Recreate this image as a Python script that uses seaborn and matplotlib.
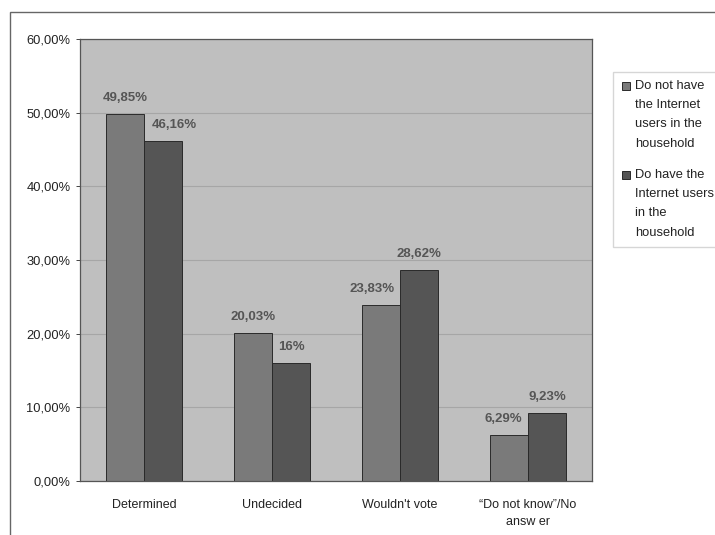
import matplotlib
matplotlib.use("Agg")
import matplotlib.pyplot as plt
import seaborn as sns
import pandas as pd
from matplotlib.patches import Rectangle

categories = ["Determined", "Undecided", "Wouldn't vote", "\u201cDo not know\u201d/No\nansw er"]
series_names = ["Do not have\nthe Internet\nusers in the\nhousehold",
                "Do have the\nInternet users\nin the\nhousehold"]
no_internet = [49.85, 20.03, 23.83, 6.29]
with_internet = [46.16, 16.00, 28.62, 9.23]
value_labels_no = ["49,85%", "20,03%", "23,83%", "6,29%"]
value_labels_with = ["46,16%", "16%", "28,62%", "9,23%"]
y_ticks = [0, 10, 20, 30, 40, 50, 60]
y_tick_labels = ["0,00%", "10,00%", "20,00%", "30,00%", "40,00%", "50,00%", "60,00%"]

df = pd.DataFrame({
    "category": categories * 2,
    "group": [series_names[0]] * 4 + [series_names[1]] * 4,
    "value": no_internet + with_internet,
})

sns.set_theme(style="white")
plt.rcParams["font.family"] = ["Liberation Sans", "DejaVu Sans"]

fig = plt.figure(figsize=(7.15, 5.35), dpi=100)
ax = fig.add_axes([0.112, 0.101, 0.716, 0.826])

palette = ["#7a7a7a", "#555555"]
sns.barplot(data=df, x="category", y="value", hue="group", order=categories,
            hue_order=series_names, palette=palette, width=0.6, saturation=1,
            edgecolor="#2a2a2a", linewidth=0.7, ax=ax)

ax.set_facecolor("#bfbfbf")
ax.set_xlim(-0.5, 3.5)
ax.set_ylim(0, 60)
ax.set_yticks(y_ticks)
ax.set_yticklabels(y_tick_labels, fontsize=9.3, color="#222222")
ax.tick_params(axis="y", length=3, width=0.7, color="#444444", direction="out", left=True, pad=4)
ax.tick_params(axis="x", length=0, labelsize=9, labelcolor="#222222", pad=13)
for t in ax.get_xticklabels():
    t.set_linespacing(1.6)
ax.set_xlabel("")
ax.set_ylabel("")
ax.yaxis.grid(True, color="#a6a6a6", linewidth=0.8)
ax.set_axisbelow(True)
for s in ax.spines.values():
    s.set_color("#555555")
    s.set_linewidth(0.9)

# value labels above each bar
label_shift = {(0, 1): 8, (2, 0): -6, (3, 0): -4}
for si, (cont, texts) in enumerate(zip(ax.containers, [value_labels_no, value_labels_with])):
    for ci, (bar, txt) in enumerate(zip(cont.patches, texts)):
        x = bar.get_x() + bar.get_width() / 2
        ax.annotate(txt, (x, bar.get_height()), xytext=(label_shift.get((ci, si), 0), 11.5),
                    textcoords="offset points", ha="center", va="center",
                    fontsize=9.5, fontweight="bold", color="#555555")

# legend to the right of the plot area
handles, labels = ax.get_legend_handles_labels()
leg = ax.legend(handles, labels, loc="upper left", bbox_to_anchor=(0.858, 0.866),
                bbox_transform=fig.transFigure, frameon=True, fontsize=9.3,
                handlelength=0.6, handleheight=0.6, handletextpad=0.45,
                labelspacing=1.5, borderpad=0.65, borderaxespad=0, fancybox=False,
                edgecolor="#cccccc", labelcolor="#222222")
for t in leg.get_texts():
    t.set_linespacing(1.8)

# put each legend swatch beside the first line of its label
for column in leg._legend_handle_box.get_children():
    for item in column.get_children():
        swatch_area = item.get_children()[0]
        for art in swatch_area.get_children():
            if isinstance(art, Rectangle):
                art.set_y(art.get_y() + 20.5)

# outer chart border (top and left edges)
fig.patches.append(Rectangle((10 / 715, -0.05), 1.2, 1 - 12 / 535 + 0.05,
                             transform=fig.transFigure, fill=False,
                             edgecolor="#666666", linewidth=1.0))

fig.savefig("out.png", dpi=100)
